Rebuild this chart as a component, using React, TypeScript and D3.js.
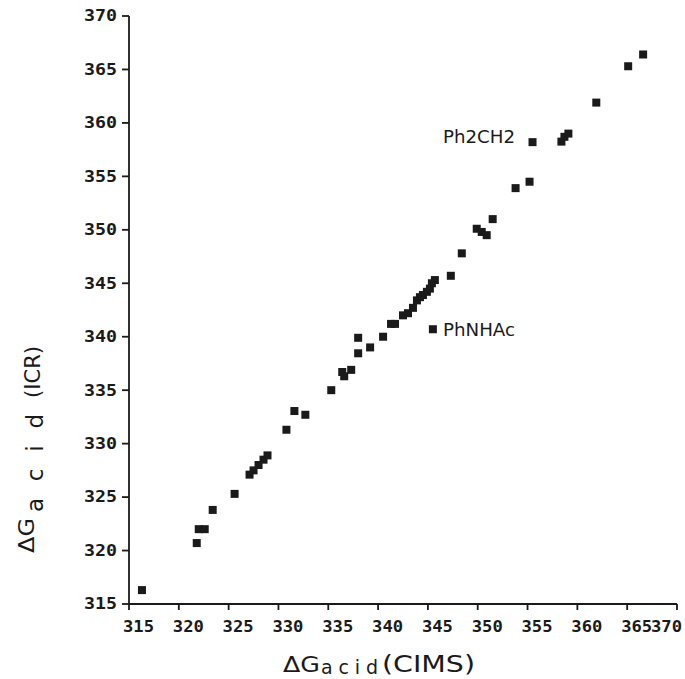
import React from "react";
import * as d3 from "d3";

const cims = [316.3, 321.8, 322.0, 322.6, 323.4, 325.6, 327.1, 327.5, 328.0, 328.5, 328.9, 330.8, 331.6, 332.7, 335.3, 336.4, 336.6, 337.3, 338.0, 338.0, 339.2, 340.5, 341.3, 341.7, 342.5, 343.0, 343.5, 343.9, 344.2, 344.5, 344.9, 345.2, 345.4, 345.7, 345.5, 347.3, 348.4, 349.9, 350.4, 350.9, 351.5, 353.8, 355.2, 355.5, 358.4, 358.7, 359.1, 361.9, 365.1, 366.6];
const icr = [316.3, 320.7, 322.0, 322.0, 323.8, 325.3, 327.1, 327.5, 328.0, 328.5, 328.9, 331.3, 333.05, 332.7, 335.0, 336.7, 336.3, 336.9, 338.45, 339.9, 339.0, 340.0, 341.2, 341.2, 342.0, 342.2, 342.7, 343.4, 343.7, 343.9, 344.2, 344.5, 345.0, 345.3, 340.7, 345.7, 347.8, 350.1, 349.8, 349.5, 351.0, 353.9, 354.5, 358.2, 358.25, 358.7, 359.0, 361.9, 365.3, 366.4];
const tickValues = [315, 320, 325, 330, 335, 340, 345, 350, 355, 360, 365, 370];
const annotations = [
  { label: "Ph2CH2", x: 355.5, y: 358.2 },
  { label: "PhNHAc", x: 345.5, y: 340.7 },
];

export default function App() {
  const x = d3.scaleLinear().domain([315, 370]).range([129, 677]);
  const y = d3.scaleLinear().domain([315, 370]).range([604, 16]);
  const ink = "#1a1a1a";
  const tickFont = { fontFamily: "DejaVu Sans Mono", fontWeight: 700, fontSize: 15 } as const;
  const sq = 8;
  const labW = 31;
  return (
    <svg width={685} height={679} style={{ position: "absolute", left: 0, top: 0, background: "#fff" }}>
      <rect x={0} y={0} width={685} height={679} fill="#fff" />
      {/* axes */}
      <line x1={x(315)} x2={x(315)} y1={y(370)} y2={y(315)} stroke={ink} strokeWidth={1.8} />
      <line x1={x(315)} x2={x(370)} y1={y(315)} y2={y(315)} stroke={ink} strokeWidth={1.8} />
      {tickValues.map((t) => (
        <g key={"y" + t}>
          <line x1={x(315) - 7} x2={x(315)} y1={y(t)} y2={y(t)} stroke={ink} strokeWidth={1.8} />
          <text x={117} y={y(t)} dy="0.36em" textAnchor="end" fill={ink} {...tickFont} textLength={33} lengthAdjust="spacingAndGlyphs">
            {t}
          </text>
        </g>
      ))}
      {tickValues.map((t) => (
        <g key={"x" + t}>
          <line x1={x(t)} x2={x(t)} y1={y(315)} y2={y(315) + 6} stroke={ink} strokeWidth={1.8} />
          <text x={Math.min(x(t) - 6, 682 - labW)} y={632} textAnchor="start" fill={ink} {...tickFont} textLength={labW} lengthAdjust="spacingAndGlyphs">
            {t}
          </text>
        </g>
      ))}
      {/* points */}
      {cims.map((cx, i) => (
        <rect key={i} x={x(cx) - sq / 2} y={y(icr[i]) - sq / 2} width={sq} height={sq} fill={ink} />
      ))}
      {/* annotations */}
      <text x={443} y={143} fontFamily="DejaVu Sans" fontSize={18} fill={ink} textLength={72} lengthAdjust="spacingAndGlyphs">
        {annotations[0].label}
      </text>
      <text x={443} y={336} fontFamily="DejaVu Sans" fontSize={18} fill={ink} textLength={72} lengthAdjust="spacingAndGlyphs">
        {annotations[1].label}
      </text>
      {/* x title */}
      <g fontFamily="DejaVu Sans" fill={ink}>
        <text x={283} y={672} fontSize={22} textLength={37} lengthAdjust="spacingAndGlyphs">ΔG</text>
        <text x={321} y={674} fontSize={19} textLength={57} lengthAdjust="spacing">acid</text>
        <text x={382} y={672} fontSize={23} textLength={93} lengthAdjust="spacingAndGlyphs">(CIMS)</text>
      </g>
      {/* y title */}
      <g fontFamily="DejaVu Sans" fill={ink}>
        <text transform="translate(34,553) rotate(-90)" fontSize={22} textLength={35} lengthAdjust="spacingAndGlyphs">ΔG</text>
        <text transform="translate(43,512) rotate(-90)" fontSize={23} textLength={98} lengthAdjust="spacing">acid</text>
        <text transform="translate(40,398) rotate(-90)" fontSize={22} textLength={52} lengthAdjust="spacingAndGlyphs">(ICR)</text>
      </g>
    </svg>
  );
}
